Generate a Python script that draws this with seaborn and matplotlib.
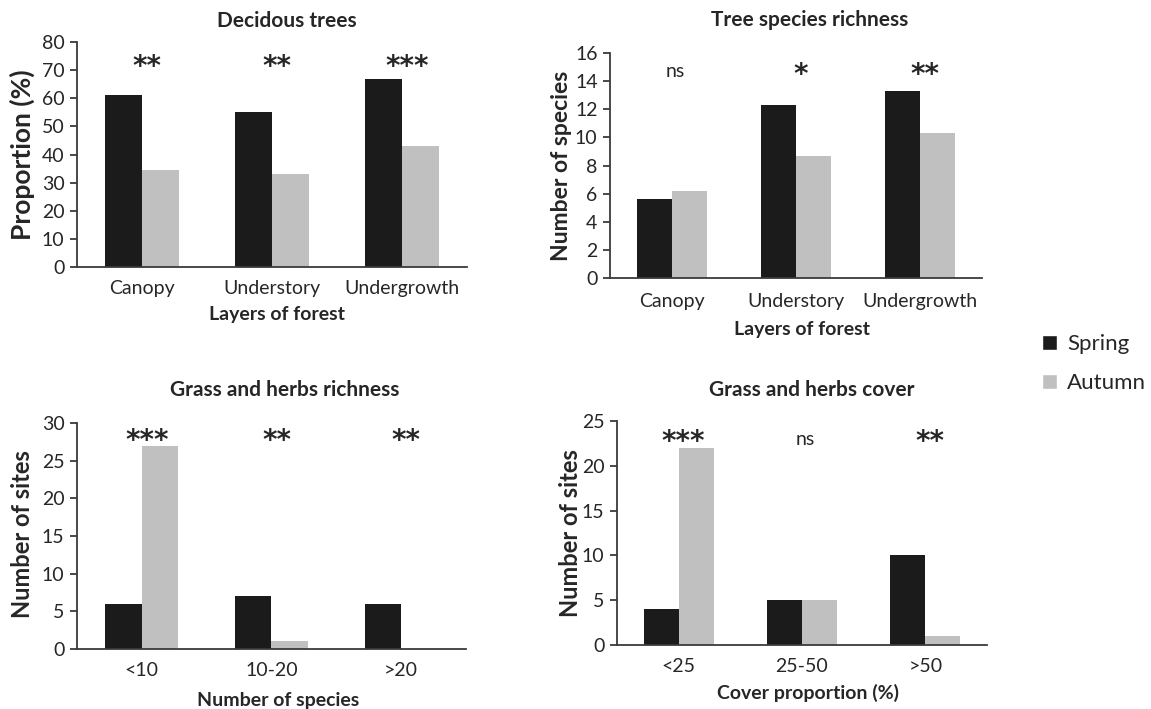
import numpy as np
import pandas as pd
import seaborn as sns
from matplotlib import pyplot as plt
from matplotlib.patches import Patch

# data
layers = ['Canopy', 'Understory', 'Undergrowth']
decid_spring = [61, 55, 67]
decid_autumn = [34.5, 33, 43]
decid_sig = ['**', '**', '***']

rich_spring = [5.6, 12.3, 13.3]
rich_autumn = [6.2, 8.7, 10.3]
rich_sig = ['ns', '*', '**']

herb_cats = ['<10', '10-20', '>20']
herb_spring = [6, 7, 6]
herb_autumn = [27, 1, 0]
herb_sig = ['***', '**', '**']

cover_cats = ['<25', '25-50', '>50']
cover_spring = [4, 5, 10]
cover_autumn = [22, 5, 1]
cover_sig = ['***', 'ns', '**']

seasons = ['Spring', 'Autumn']
colors = {'Spring': '#1b1b1b', 'Autumn': '#c0c0c0'}
W, H = 1151, 709

sns.set_style('ticks')
plt.rcParams['font.family'] = ['Lato', 'DejaVu Sans']
axcol = '#3a3a3a'

panels = [
    dict(title='Decidous trees', cats=layers, spring=decid_spring, autumn=decid_autumn, sig=decid_sig,
         ymax=80, step=10, ylabel='Proportion (%)', xlabel='Layers of forest', ylsize=19,
         px=(77, 467, 42, 267), title_xy=(287, 21), sig_y=73, ylab=(-0.141, 0.5), xlab=(0.513, -0.213), pad=9),
    dict(title='Tree species richness', cats=layers, spring=rich_spring, autumn=rich_autumn, sig=rich_sig,
         ymax=16, step=2, ylabel='Number of species', xlabel='Layers of forest', ylsize=16.5,
         px=(610, 982, 53, 278), title_xy=(810, 20), sig_y=14.8, ylab=(-0.131, 0.5), xlab=(0.516, -0.231), pad=11),
    dict(title='Grass and herbs richness', cats=herb_cats, spring=herb_spring, autumn=herb_autumn, sig=herb_sig,
         ymax=30, step=5, ylabel='Number of sites', xlabel='Number of species', ylsize=17,
         px=(77, 466, 423, 649), title_xy=(285, 390), sig_y=28.2, ylab=(-0.141, 0.51), xlab=(0.517, -0.226), pad=9),
    dict(title='Grass and herbs cover', cats=cover_cats, spring=cover_spring, autumn=cover_autumn, sig=cover_sig,
         ymax=25, step=5, ylabel='Number of sites', xlabel='Cover proportion (%)', ylsize=17,
         px=(617, 987, 421, 645), title_xy=(812, 390), sig_y=23.2, ylab=(-0.127, 0.5), xlab=(0.516, -0.214), pad=9),
]

fig = plt.figure(figsize=(W / 100, H / 100), dpi=100)

for p in panels:
    l, r, t, b = p['px']
    ax = fig.add_axes([l / W, 1 - b / H, (r - l) / W, (b - t) / H])
    df = pd.DataFrame({
        'cat': p['cats'] * 2,
        'val': list(p['spring']) + list(p['autumn']),
        'season': ['Spring'] * 3 + ['Autumn'] * 3,
    })
    sns.barplot(data=df, x='cat', y='val', hue='season', hue_order=seasons, palette=colors,
                width=0.565, saturation=1, linewidth=0, legend=False, ax=ax)
    ax.set_xlim(-0.5, 2.5)
    ax.set_ylim(0, p['ymax'])
    ax.set_yticks(np.arange(0, p['ymax'] + 1, p['step']))
    sns.despine(ax=ax)
    for s in ['left', 'bottom']:
        ax.spines[s].set_color(axcol)
        ax.spines[s].set_linewidth(1.3)
    ax.tick_params(axis='y', length=5, width=1.3, color=axcol, labelsize=14, pad=4)
    ax.tick_params(axis='x', length=0, labelsize=14, pad=p['pad'])
    ax.set_ylabel(p['ylabel'], fontsize=p['ylsize'], fontweight='bold', va='center')
    ax.set_xlabel(p['xlabel'], fontsize=14, fontweight='bold', va='center')
    ax.yaxis.set_label_coords(*p['ylab'])
    ax.xaxis.set_label_coords(*p['xlab'])
    for i, s in enumerate(p['sig']):
        if s == 'ns':
            ax.annotate(s, (i + 0.03, p['sig_y']), xytext=(0, -1.5), textcoords='offset points',
                        ha='center', va='center', fontsize=14)
        else:
            ax.annotate(s, (i + 0.04, p['sig_y']), xytext=(0, -3.5), textcoords='offset points',
                        ha='center', va='center', fontsize=20, fontweight='bold', family='DejaVu Sans')
    fig.text(p['title_xy'][0] / W, 1 - p['title_xy'][1] / H, p['title'],
             ha='center', va='center', fontsize=15, fontweight='bold')

handles = [Patch(facecolor=colors[s], label=s) for s in seasons]
fig.legend(handles=handles, loc='center left', bbox_to_anchor=(1042 / W, 1 - 363.5 / H),
           frameon=False, fontsize=16, handlelength=0.68, handleheight=0.68,
           handletextpad=0.45, labelspacing=0.85, borderpad=0, borderaxespad=0)

fig.savefig('out.png', dpi=100)
